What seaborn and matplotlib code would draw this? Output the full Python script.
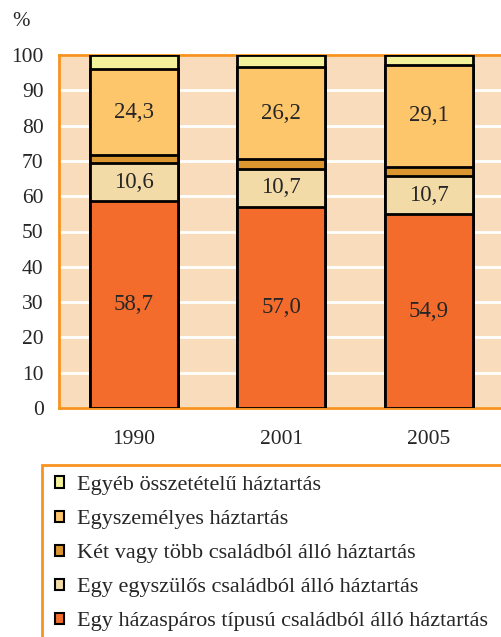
import numpy as np
import pandas as pd
import matplotlib
matplotlib.use("Agg")
import matplotlib.pyplot as plt
from matplotlib.patches import Patch, Rectangle
import seaborn as sns

# data (bottom segment first)
years = ["1990", "2001", "2005"]
series_names = [
    "Egy házaspáros típusú családból álló háztartás",
    "Egy egyszülős családból álló háztartás",
    "Két vagy több családból álló háztartás",
    "Egyszemélyes háztartás",
    "Egyéb összetételű háztartás",
]
hazaspar = [58.7, 57.0, 54.9]
egyszulos = [10.6, 10.7, 10.7]
tobb_csalad = [2.3, 2.7, 2.6]
egyszemelyes = [24.3, 26.2, 29.1]
egyeb = [4.1, 3.4, 2.7]
labelled = [True, True, False, True, False]

colors = ["#F36C2C", "#F3DBA8", "#DB962F", "#FEC66B", "#F3F29A"]
ORANGE = "#F7931E"
BG = "#F8DCBC"

sns.set_style("white")
plt.rcParams["font.family"] = ["Liberation Serif", "DejaVu Serif"]

values = np.array([hazaspar, egyszulos, tobb_csalad, egyszemelyes, egyeb])
cum = values.cumsum(axis=0)

fig = plt.figure(figsize=(5.01, 6.37), dpi=100)
ax = fig.add_axes([59 / 501, 1 - 408 / 637, 1 - 59 / 501, (408 - 55) / 637])
ax.set_facecolor(BG)

# draw cumulative totals, tallest first, so they look stacked
for i in range(len(series_names) - 1, -1, -1):
    df = pd.DataFrame({"year": years, "value": cum[i]})
    sns.barplot(data=df, x="year", y="value", color=colors[i], width=0.595,
                edgecolor="black", linewidth=2, saturation=1, ax=ax, zorder=3)

for i in range(len(series_names)):
    if not labelled[i]:
        continue
    for j in range(len(years)):
        mid = cum[i, j] - values[i, j] / 2
        ax.text(j, mid, f"{values[i, j]:.1f}".replace(".", ","), ha="center",
                va="center", fontsize=16.5, zorder=5)

ax.set_xlim(-0.507, 2.49)
ax.set_ylim(0, 100)
ax.set_yticks(range(0, 101, 10))
ax.yaxis.grid(True, color="white", linewidth=2, zorder=0)
ax.set_axisbelow(True)
ax.set_xlabel("")
ax.set_ylabel("")
ax.tick_params(axis="y", length=0, pad=11, labelsize=15.5)
ax.tick_params(axis="x", length=0, pad=16, labelsize=15.5)
for side in ["left", "bottom", "top"]:
    ax.spines[side].set_color(ORANGE)
    ax.spines[side].set_linewidth(2)
ax.spines["right"].set_visible(False)

fig.text(12 / 501, 1 - 22 / 637, "%", fontsize=15, va="center", ha="left")

# legend box (orange left and top border running off the figure)
fig.patches.append(Rectangle((42 / 501, -0.05), 1.0, 0.05 + (637 - 465) / 637,
                             transform=fig.transFigure, facecolor="white",
                             edgecolor=ORANGE, linewidth=2))
handles = [Patch(facecolor=colors[i], edgecolor="black", linewidth=1.5)
           for i in range(len(series_names) - 1, -1, -1)]
labels = series_names[::-1]
fig.legend(handles, labels, loc="upper left", bbox_to_anchor=(55 / 501, 1 - 476 / 637),
           frameon=False, fontsize=16, handlelength=0.4, handleheight=0.4,
           handletextpad=0.59, labelspacing=0.68, borderpad=0, borderaxespad=0)

fig.savefig("out.png", dpi=100)
